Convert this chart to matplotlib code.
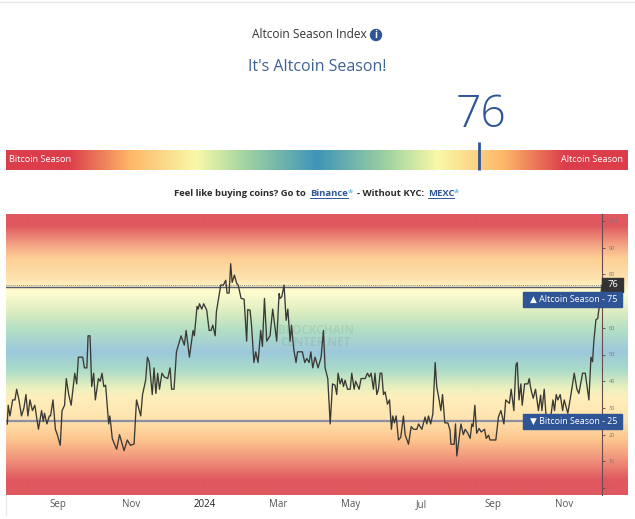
import matplotlib
matplotlib.use("Agg")
import matplotlib.pyplot as plt
from matplotlib.colors import LinearSegmentedColormap
from matplotlib.patches import Rectangle, Circle
import numpy as np

plt.rcParams['font.family'] = ['Open Sans', 'DejaVu Sans']

# days since start of the series
days = [
    0.3, 1, 2.5, 4.7, 6.6, 8, 9.9, 12, 14, 15.7,
    17.3, 19, 21, 23, 26, 28.6, 30, 31, 33, 35,
    36, 38, 40, 41.6, 44, 45.5, 47.6, 49, 51, 53,
    56, 57.6, 59, 62.5, 64, 66, 67, 68.6, 70, 71.6,
    73, 75.5, 77, 78.5, 80, 81.5, 84, 85, 87, 90.6,
    93, 96.7, 99.4, 102, 105, 107, 110.5, 112, 114.6, 116,
    117.6, 120, 121.5, 123, 124.5, 126, 128, 130, 132.8, 134.7,
    136, 138, 140, 143.8, 146.5, 148, 150.7, 153.7, 154.8, 157,
    158, 159, 160.9, 162.5, 165, 167, 168.6, 170, 172, 173,
    175, 176.6, 178.8, 180.7, 181.8, 183.5, 184.8, 186, 187.9, 189.8,
    191, 193.4, 195.9, 198, 198.9, 200.8, 202, 204, 205.5, 207.4,
    209.6, 211, 212.7, 214.6, 217.3, 219.5, 222.8, 224.8, 225.6, 227,
    228.9, 230.6, 232, 233.9, 235, 237, 238.8, 240, 244, 246,
    247.6, 249.6, 251, 252.6, 254.5, 257, 259.5, 261.4, 262.8, 265,
    267, 268.9, 271, 272.4, 273.5, 275.2, 276.6, 278, 279.3, 281.3,
    283.5, 284.8, 286.8, 288, 290.9, 292.5, 295.9, 297.8, 299.4, 300.8,
    302.7, 304, 305.5, 306.9, 308.2, 309.6, 311, 312.4, 314.3, 316,
    317.6, 318.7, 320, 321.5, 323.4, 325.3, 327.5, 328.9, 331.7, 333.9,
    335.8, 338.6, 340, 342.7, 345.4, 346.8, 348.2, 350, 351.8, 353.7,
    355, 357, 358.4, 359.8, 361.7, 364.2, 366, 366.7, 369.4, 370.5,
    371.6, 375, 377, 378.5, 380.7, 382.6, 384, 385, 386.5, 388,
    390, 391.7, 394.5, 395.9, 397.8, 399, 403.8, 406, 408, 410.5,
    412, 415, 416.5, 418.7, 420.4, 421.5, 423, 424.5, 425.6, 427.6,
    430.3, 431.4, 432.8, 434.7, 436.6, 439, 440.8, 441.9, 443.8, 446,
    447.6, 449.6, 451, 452.3, 453.7, 455, 457, 459, 460.3, 463.3,
    466, 468.6, 470.8, 472.4, 475.5, 477.7, 480.7, 482.4, 483.7, 484.8,
    486.5, 488, 489.5, 491.5,
]
index_values = [
    24, 31, 27, 33, 33, 37, 33, 27, 30, 35,
    27, 33, 29, 31, 22, 29, 25, 28, 24, 27,
    27, 33, 22, 20, 16, 29, 31, 41, 35, 31,
    43, 39, 49, 49, 45, 45, 57, 57, 38, 43,
    33, 41, 40, 43, 38, 38.5, 24, 27, 18.5, 14.5,
    20, 14, 18, 16, 16.5, 33, 27, 35, 40.5, 49,
    47, 35, 45, 35.4, 43, 37, 43, 41.6, 41, 45,
    37, 37, 51, 57, 53.5, 59, 49, 59, 57, 68,
    67, 69, 67, 69, 66.6, 59, 59, 61, 57, 66,
    71.6, 76, 76, 77.8, 73, 73, 84, 77, 79.7, 76.6,
    76, 71, 70.7, 55, 66.8, 66.6, 61, 47, 51, 47,
    59, 53, 71, 55, 57, 67, 55, 72.8, 71, 71.6,
    76, 62.8, 67, 55, 61, 51.6, 47, 51, 51, 47,
    48.5, 47, 51, 45, 49, 45, 49, 59, 45, 41,
    24, 39, 38.5, 35, 43, 39, 41, 38, 40.4, 37,
    37, 43, 37, 40, 37, 41, 41, 43, 41.6, 43,
    37, 43, 35, 37, 43, 43, 35, 36, 31.4, 33,
    22, 27, 24.4, 27, 18, 19, 27, 20, 16.4, 23,
    22, 22, 24, 22, 26.6, 24, 27, 24, 27.8, 47,
    38, 33, 29, 35, 24.4, 24.4, 21.6, 16.4, 16.4, 24,
    12, 24, 20, 22, 20.5, 18.6, 24, 23, 31, 20.5,
    22.3, 21, 22, 18.6, 19.8, 18, 18, 26.7, 29, 24,
    33, 31.7, 37, 29, 46, 47, 33, 39, 31, 39,
    39, 41, 37, 33.6, 37, 29, 34.8, 29, 37, 22.3,
    24, 28, 33, 29, 35, 33, 35, 29, 33, 28,
    35.4, 43, 37, 35.4, 43, 43, 33, 49, 47.3, 55,
    63, 63.5, 69, 76,
]
month_labels = ['Sep', 'Nov', '2024', 'Mar', 'May', 'Jul', 'Sep', 'Nov']
month_days = [41.8, 102.9, 163.6, 224, 284, 342.6, 401.7, 460]
index_ticks = [0, 10, 20, 30, 40, 50, 60, 70, 80, 90, 100]
current = 76
alt_level = 75
btc_level = 25

blue = '#2f5597'

fig = plt.figure(figsize=(6.35, 5.19), dpi=100)
W, H = 635, 519

# chart background bottom to top
chart_cmap = LinearSegmentedColormap.from_list('chart', [
    (0.00, '#e0585f'), (0.053, '#e0585f'), (0.125, '#f0927a'), (0.196, '#fdc58e'), (0.267, '#ffe3ae'),
    (0.349, '#feefbc'), (0.384, '#e8efbe'), (0.445, '#aadcc8'), (0.509, '#9cc8dc'), (0.591, '#b4e0c4'),
    (0.651, '#dcedc0'), (0.722, '#fffdd0'), (0.769, '#fee3b0'), (0.843, '#fdcf95'), (0.890, '#f4a585'),
    (0.96, '#e0585f'), (1.00, '#e0585f')], N=1024)

ax = fig.add_axes([6 / W, 1 - 495 / H, 622 / W, 281 / H])
ax.imshow(np.linspace(1, 0, 562).reshape(-1, 1), cmap=chart_cmap, aspect='auto',
          extent=(-0.8, 513, -2.6, 102.6), interpolation='bilinear', zorder=0)
ax.set_xlim(-0.8, 513)
ax.set_ylim(-2.6, 102.6)

ax.plot([-0.8, 491.5], [current + 0.2, current + 0.2], color='#666666', lw=0.6, ls=(0, (1, 1.5)), zorder=2)
ax.plot([-0.8, 491.5], [alt_level + 0.1, alt_level + 0.1], color='#555a70', lw=1.0, zorder=2)
ax.plot([-0.8, 491.5], [btc_level, btc_level], color='#8a90a2', lw=1.6, zorder=2)
ax.plot(days, index_values, color='#3a3a35', lw=0.95, zorder=3)

for s in ['top', 'left', 'bottom']:
    ax.spines[s].set_visible(False)
ax.spines['right'].set_position(('data', 491.5))
ax.spines['right'].set_color('#6b4a50')
ax.spines['right'].set_linewidth(0.8)
ax.yaxis.tick_right()
ax.set_yticks(index_ticks)
ax.set_yticklabels(index_ticks)
ax.tick_params(axis='y', length=2, width=0.6, color='#5a4a4a', labelsize=4, labelcolor='#777777', pad=3)
ax.set_xticks(month_days)
ax.set_xticklabels(month_labels)
ax.tick_params(axis='x', length=0, labelsize=7, labelcolor='#555555', pad=7)
for lab in ax.get_xticklabels():
    lab.set_verticalalignment('center')
ax.get_xticklabels()[2].set_color('#222222')

# overlay in pixels for the page parts
top = fig.add_axes([0, 0, 1, 1], facecolor='none')
top.axis('off')

gauge_cmap = LinearSegmentedColormap.from_list('gauge', [
    (0.00, '#dc3d4a'), (0.10, '#dc3d4a'), (0.20, '#fdb868'), (0.305, '#f9f9a8'), (0.38, '#a6d6a0'),
    (0.50, '#3e95b8'), (0.62, '#a6d6a0'), (0.695, '#f9f9a8'), (0.80, '#fdb868'), (0.90, '#dc3d4a'), (1.00, '#dc3d4a')], N=1024)
top.imshow(np.linspace(0, 1, 622).reshape(1, -1), cmap=gauge_cmap, aspect='auto', extent=(6, 628, 170, 150))
top.set_xlim(0, W)
top.set_ylim(H, 0)

top.plot([0, W], [2.3, 2.3], color='#e6e6e6', lw=1)
top.plot([6, 6], [495, 515], color='#e6e6e6', lw=0.8)
top.plot([479, 479], [142, 170], color=blue, lw=2, solid_capstyle='butt')

top.text(309, 35, 'Altcoin Season Index', ha='center', va='center', fontsize=8.6, color='#333333')
top.add_patch(Circle((376, 35), 5.5, color=blue))
top.text(376, 35, 'i', ha='center', va='center', fontsize=7, fontweight='bold', color='white')
top.text(317, 67, "It's Altcoin Season!", ha='center', va='center', fontsize=11.5, color='#3f6296')
top.text(480.5, 116, str(current), ha='center', va='center', fontsize=32, fontweight='light', color=blue)
top.text(9, 159.5, 'Bitcoin Season', ha='left', va='center', fontsize=6.6, color='white')
top.text(623, 159.5, 'Altcoin Season', ha='right', va='center', fontsize=6.6, color='white')

top.text(174, 193, 'Feel like buying coins? Go to', ha='left', va='center', fontsize=6.8, fontweight='bold', color='#2b2b2b')
top.text(310, 193, 'Binance', ha='left', va='center', fontsize=6.8, fontweight='bold', color=blue)
top.text(348, 193, '*', ha='left', va='center', fontsize=6.8, fontweight='bold', color='#6ec1e4')
top.text(357, 193, '- Without KYC:', ha='left', va='center', fontsize=6.8, fontweight='bold', color='#2b2b2b')
top.text(428, 193, 'MEXC', ha='left', va='center', fontsize=6.8, fontweight='bold', color=blue)
top.text(454, 193, '*', ha='left', va='center', fontsize=6.8, fontweight='bold', color='#6ec1e4')
top.plot([310, 348], [198, 198], color=blue, lw=0.7)
top.plot([428, 454], [198, 198], color=blue, lw=0.7)

top.text(316, 330, 'BLOCKCHAIN', ha='center', va='center', fontsize=8.5, fontweight='bold', color='#555555', alpha=0.11)
top.text(316, 343, 'CENTER.NET', ha='center', va='center', fontsize=8.5, fontweight='bold', color='#555555', alpha=0.11)

top.add_patch(Rectangle((602, 278), 21, 14, color='#333333'))
top.text(612.5, 284.5, str(current), ha='center', va='center', fontsize=6.8, color='white')
top.add_patch(Rectangle((523, 292), 99, 14.5, color=blue))
top.text(573.5, 299.5, '\u25b2 Altcoin Season - 75', ha='center', va='center', fontsize=6.4, color='white')
top.add_patch(Rectangle((523, 414), 99, 14.5, color=blue))
top.text(573.5, 421.5, '\u25bc Bitcoin Season - 25', ha='center', va='center', fontsize=6.4, color='white')

fig.savefig('out.png', dpi=100)
